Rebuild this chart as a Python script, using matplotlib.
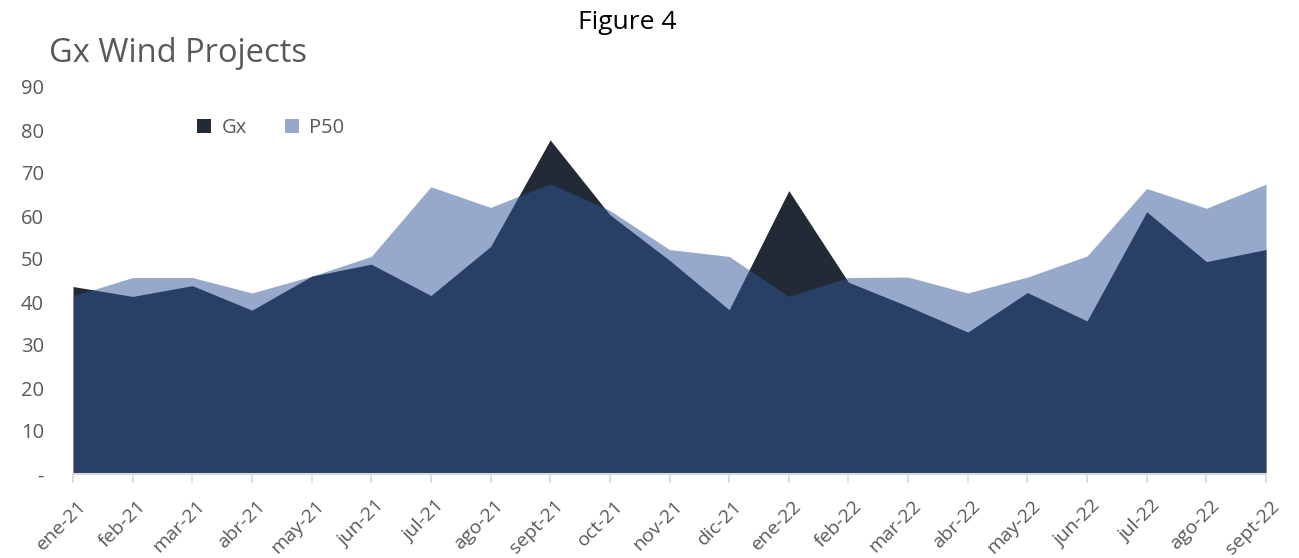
import matplotlib
matplotlib.use("Agg")
import matplotlib.pyplot as plt
from matplotlib.patches import Patch
from matplotlib.transforms import ScaledTranslation
import numpy as np

plt.rcParams['font.family'] = ['Open Sans', 'DejaVu Sans']

months = ["ene-21", "feb-21", "mar-21", "abr-21", "may-21", "jun-21", "jul-21",
          "ago-21", "sept-21", "oct-21", "nov-21", "dic-21", "ene-22", "feb-22",
          "mar-22", "abr-22", "may-22", "jun-22", "jul-22", "ago-22", "sept-22"]
gx = [43.6, 41.3, 43.8, 38.1, 46.0, 48.8, 41.5, 52.9, 77.7, 60.3, 49.7, 38.2,
      65.9, 44.6, 39.0, 33.0, 42.2, 35.6, 61.0, 49.4, 52.2]
p50 = [41.4, 45.7, 45.7, 42.1, 46.0, 50.6, 66.8, 62.0, 67.5, 61.3, 52.2, 50.6,
       41.3, 45.7, 45.8, 42.1, 45.8, 50.7, 66.4, 61.8, 67.4]
yticks = [0, 10, 20, 30, 40, 50, 60, 70, 80, 90]
ylabels = ["-", "10", "20", "30", "40", "50", "60", "70", "80", "90"]

GX_COLOR = "#222a35"
P50_COLOR = "#2f5597"
TXT = "#595959"

fig = plt.figure(figsize=(12.99, 5.58), dpi=100)
ax = fig.add_axes([73/1299, 1-474/558, (1266-73)/1299, (474-87)/558])

x = np.arange(len(months))
ax.fill_between(x, gx, 0, color=GX_COLOR, linewidth=0)
ax.fill_between(x, p50, 0, color=P50_COLOR, alpha=0.5, linewidth=0)

ax.set_xlim(0, len(months) - 1)
ax.set_ylim(0, 90)
ax.set_yticks(yticks)
ax.set_yticklabels(ylabels, color=TXT, fontsize=14.5)
ax.set_xticks(x)
ax.set_xticklabels(months, rotation=45, ha='right', rotation_mode='anchor',
                   color=TXT, fontsize=14)
ax.tick_params(axis='y', length=0, pad=21)
ax.tick_params(axis='x', length=6.5, width=1.2, color="#d9d9d9", pad=10, direction='out')
offset = ScaledTranslation(4/100, 0, fig.dpi_scale_trans)
for lbl in ax.get_xticklabels():
    lbl.set_transform(lbl.get_transform() + offset)
for s in ['top', 'right', 'left']:
    ax.spines[s].set_visible(False)
ax.spines['bottom'].set_color("#d9d9d9")
ax.spines['bottom'].set_linewidth(1.5)

fig.text(627/1299, 1-29/558, "Figure 4", ha='center', va='baseline', fontsize=19, color='black')
fig.text(49/1299, 1-62/558, "Gx Wind Projects", ha='left', va='baseline', fontsize=23.5, color=TXT)

handles = [Patch(facecolor=GX_COLOR, edgecolor='none', label='Gx'),
           Patch(facecolor=P50_COLOR, alpha=0.5, edgecolor='none', label='P50')]
fig.legend(handles=handles, loc='center left', bbox_to_anchor=(183/1299, 1-128/558),
           ncol=2, frameon=False, fontsize=14.5, labelcolor=TXT,
           handlelength=0.7, handleheight=0.75, handletextpad=0.5, columnspacing=1.9,
           borderpad=0.2)

fig.savefig("out.png", dpi=100)
